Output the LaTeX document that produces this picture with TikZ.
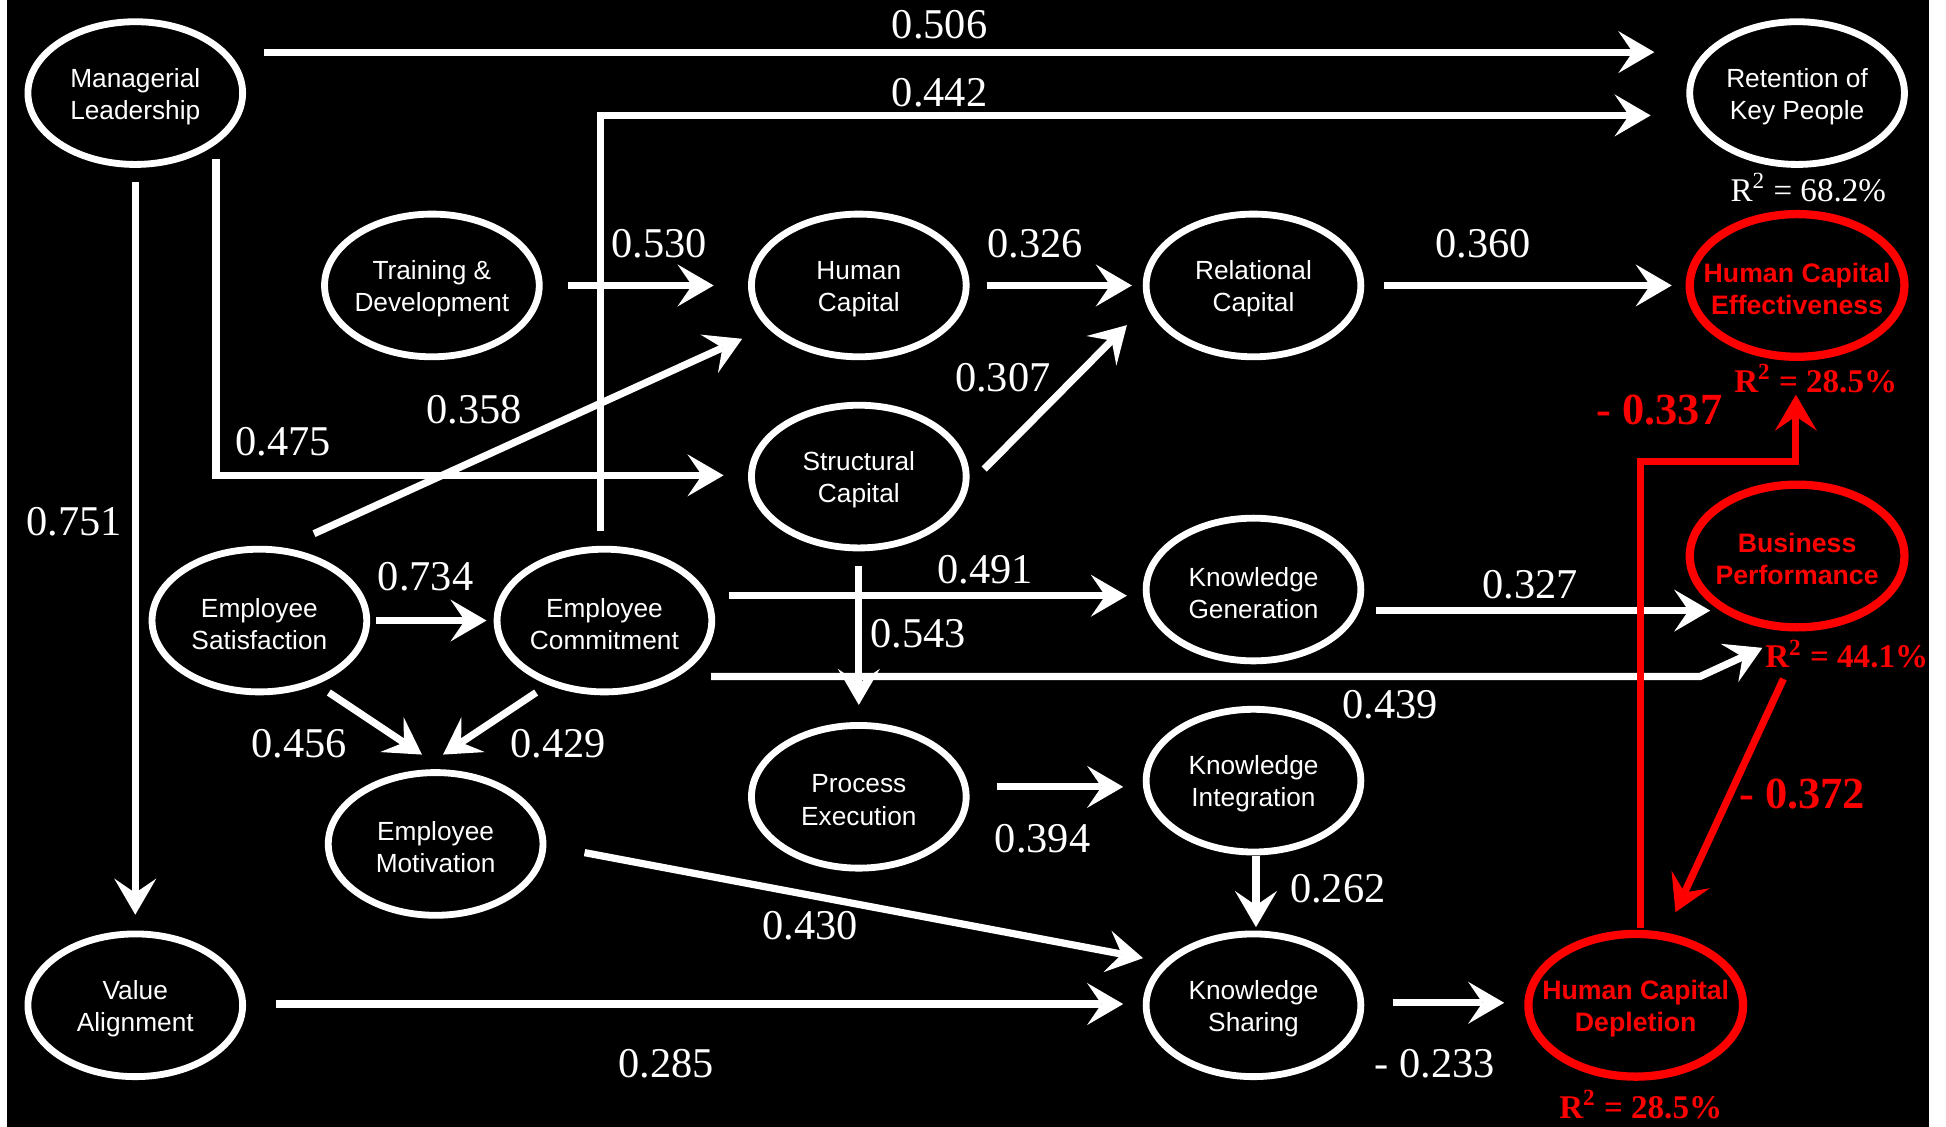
\documentclass[tikz,border=0pt]{standalone}
\usepackage{fontspec}
\setmainfont{Liberation Serif}
\setsansfont{Liberation Sans}
\usetikzlibrary{arrows.meta,shapes.geometric,calc}
\definecolor{hred}{RGB}{255,0,0}
\begin{document}
\begin{tikzpicture}[x=0.6pt,y=-0.6pt,
  ell/.style={ellipse, draw=white, line width=3.3pt, minimum width=103.8pt, minimum height=69pt, inner sep=0pt, outer sep=0pt},
  rell/.style={ell, draw=hred, line width=4pt},
  lbl/.style={font=\sffamily\fontsize{12.7}{15.5}\selectfont, text=white, align=center, yshift=-1.6pt},
  rlbl/.style={font=\sffamily\bfseries\fontsize{12.9}{15.5}\selectfont, text=hred, align=center, yshift=-1.6pt},
  num/.style={font=\fontsize{20.5}{24}\selectfont, text=white, inner sep=0pt},
  rnum/.style={font=\bfseries\fontsize{21.5}{24}\selectfont, text=hred, inner sep=0pt},
  rsq/.style={font=\fontsize{16}{18}\selectfont, text=white, inner sep=0pt},
  rrsq/.style={font=\bfseries\fontsize{16}{18}\selectfont, text=hred, inner sep=0pt},
  arr/.style={draw=white, line width=3.5pt, -{Stealth[length=17.5pt,width=20.4pt,inset=7pt,line width=0pt]}},
  rarr/.style={draw=hred, line width=3.5pt, -{Stealth[length=17.5pt,width=20.4pt,inset=7pt,line width=0pt]}},
]
\useasboundingbox (0,0) rectangle (1568,908);
\fill[black] (0,0) rectangle (1568,908);
\fill[white] (0,0) rectangle (6,908);
\fill[white] (1554,0) rectangle (1568,908);

% nodes
\node[ell, label={[lbl]center:{Managerial\\Leadership}}] (ml) at (109,75) {};
\node[ell, label={[lbl]center:{Retention of\\Key People}}] (rk) at (1448,75) {};
\node[ell, label={[lbl]center:{Training \&\\Development}}] (td) at (348,230) {};
\node[ell, label={[lbl]center:{Human\\Capital}}] (hc) at (692,230) {};
\node[ell, label={[lbl]center:{Relational\\Capital}}] (rc) at (1010,230) {};
\node[rell, label={[rlbl]center:{Human Capital\\Effectiveness}}] (hce) at (1448,230) {};
\node[ell, label={[lbl]center:{Structural\\Capital}}] (sc) at (692,384) {};
\node[ell, label={[lbl]center:{Employee\\Satisfaction}}] (es) at (209,500) {};
\node[ell, label={[lbl]center:{Employee\\Commitment}}] (ec) at (487,500) {};
\node[ell, label={[lbl]center:{Knowledge\\Generation}}] (kg) at (1010,475) {};
\node[rell, label={[rlbl]center:{Business\\Performance}}] (bp) at (1448,448) {};
\node[ell, label={[lbl]center:{Employee\\Motivation}}] (em) at (351,680) {};
\node[ell, label={[lbl]center:{Process\\Execution}}] (pe) at (692,642) {};
\node[ell, label={[lbl]center:{Knowledge\\Integration}}] (ki) at (1010,629) {};
\node[ell, label={[lbl]center:{Value\\Alignment}}] (va) at (109,810) {};
\node[ell, label={[lbl]center:{Knowledge\\Sharing}}] (ks) at (1010,810) {};
\node[rell, label={[rlbl]center:{Human Capital\\Depletion}}] (hcd) at (1318,810) {};

% connectors
\draw[arr] ($(ml)+(104,-33)$) -- ($(rk)+(-115,-33)$);
\draw[arr] ($(ec)+(-3,-72)$) |- ($(rk)+(-118,18)$);
\draw[arr] ($(ml)+(0,72)$) -- ($(va)+(0,-73)$);
\draw[arr] ($(ml)+(65,53)$) |- ($(sc)+(-109,-1)$);
\draw[arr] ($(td)+(110,0)$) -- ($(hc)+(-117,0)$);
\draw[arr] ($(es)+(44,-70)$) -- ($(hc)+(-94,43)$);
\draw[arr] ($(hc)+(103,0)$) -- ($(rc)+(-98,0)$);
\draw[arr] ($(sc)+(101,-6)$) -- ($(rc)+(-102,32)$);
\draw[arr] ($(rc)+(105,0)$) -- ($(hce)+(-101,0)$);
\draw[arr] ($(es)+(94,0)$) -- ($(ec)+(-95,0)$);
\draw[arr] ($(ec)+(100,-20)$) -- ($(kg)+(-102,5)$);
\draw[arr] ($(sc)+(0,72)$) -- ($(pe)+(0,-74)$);
\draw[arr] ($(ec)+(86,45)$) -- ($(bp)+(-78,97)$) -- ($(bp)+(-28,74)$);
\draw[arr] ($(kg)+(99,17)$) -- ($(bp)+(-70,44)$);
\draw[arr] ($(es)+(56,58)$) -- ($(em)+(-11,-72)$);
\draw[arr] ($(ec)+(-55,58)$) -- ($(em)+(6,-72)$);
\draw[arr] ($(pe)+(111,-8)$) -- ($(ki)+(-105,5)$);
\draw[arr] ($(ki)+(2,61)$) -- ($(ks)+(2,-63)$);
\draw[arr] ($(em)+(120,7)$) -- ($(ks)+(-89,-38)$);
\draw[arr] ($(va)+(113,-1)$) -- ($(ks)+(-105,-1)$);
\draw[arr] ($(ks)+(112,-2)$) -- ($(hcd)+(-106,-2)$);
\draw[rarr] ($(hcd)+(4,-62)$) -- ++(0,-376) -| ($(hce)+(-1,88)$);
\draw[rarr] ($(bp)+(-11,99)$) -- ($(hcd)+(32,-75)$);

% coefficient labels
\node[num] (l506) at (757,20) {0.506};
\node[num] (l442) at (757,75) {0.442};
\node[num] (l751) at (60,420) {0.751};
\node[num] (l475) at (228,356) {0.475};
\node[num] (l530) at (531,196) {0.530};
\node[num] (l358) at (382,330) {0.358};
\node[num] (l326) at (834,196) {0.326};
\node[num] (l307) at (808,304) {0.307};
\node[num] (l360) at (1195,196) {0.360};
\node[num] (l734) at (343,465) {0.734};
\node[num] (l491) at (794,459) {0.491};
\node[num] (l543) at (740,511) {0.543};
\node[num] (l439) at (1120,568) {0.439};
\node[num] (l327) at (1233,471) {0.327};
\node[num] (l456) at (241,599) {0.456};
\node[num] (l429) at (450,599) {0.429};
\node[num] (l394) at (840,676) {0.394};
\node[num] (l262) at (1078,716) {0.262};
\node[num] (l430) at (653,746) {0.430};
\node[num] (l285) at (537,857) {0.285};
\node[num] (l233) at (1156,857) {- 0.233};
\node[rnum] (l337) at (1337,330) {- 0.337};
\node[rnum] (l372) at (1452,640) {- 0.372};

% R squared
\node[rsq] (r1) at (1457,151) {R\textsuperscript{2} = 68.2\%};
\node[rrsq] (r2) at (1463,305) {R\textsuperscript{2} = 28.5\%};
\node[rrsq] (r3) at (1488,527) {R\textsuperscript{2} = 44.1\%};
\node[rrsq] (r4) at (1322,890) {R\textsuperscript{2} = 28.5\%};
\end{tikzpicture}
\end{document}
